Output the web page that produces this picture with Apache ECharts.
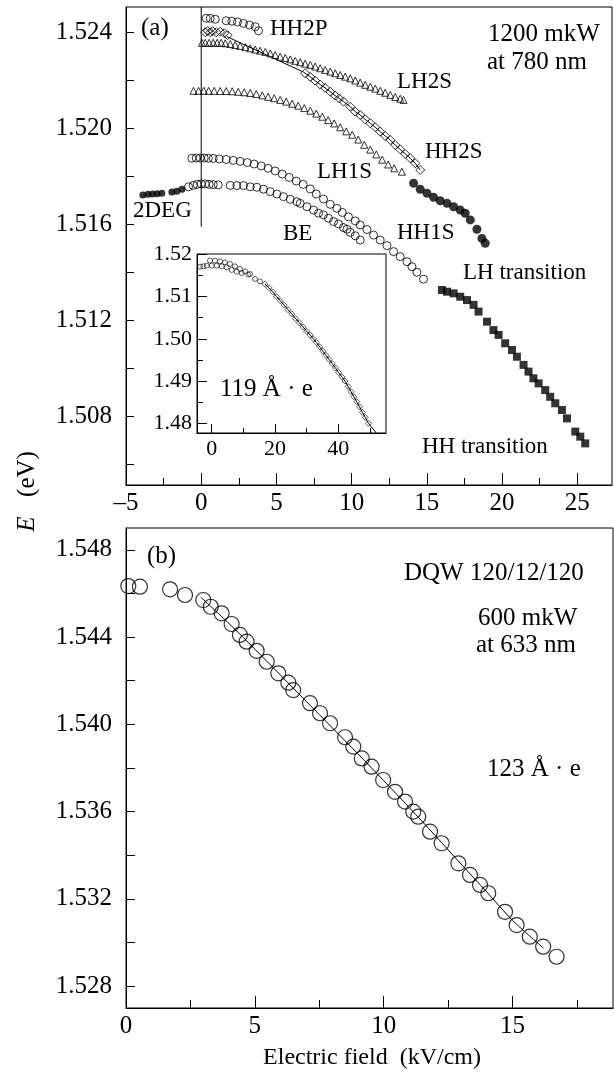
<!DOCTYPE html>
<html><head><meta charset="utf-8">
<script src="https://cdn.jsdelivr.net/npm/echarts@6/dist/echarts.min.js"></script>
<style>html,body{margin:0;padding:0;background:#fff}#c{width:614px;height:1076px}</style>
</head><body><div id="c"></div>
<script>
// ---------- Panel (a) data: field (kV/cm), energy (eV) ----------
const twoDegData = [[-3.88,1.51721],[-3.54,1.51724],[-3.24,1.51725],[-2.93,1.51726],[-2.62,1.51728],[-1.95,1.51733],[-1.62,1.51736],[-1.28,1.51745]];
const vLine = [[0,1.52504],[0,1.51589]];
const hh2pData = [[0.33,1.52457],[0.6,1.52457],[0.93,1.52453],[1.66,1.52447],[2.04,1.52445],[2.41,1.52442],[2.81,1.52436],[3.21,1.52429],[3.59,1.52422],[3.81,1.52405]];
const hh2sTop = [[0.27,1.52399],[0.43,1.52404],[0.6,1.52399],[0.76,1.52403],[1.0,1.52399],[1.26,1.52401],[1.53,1.52395],[1.76,1.52387]];
const hh2sData = [[6.91,1.52228],[7.25,1.52213],[7.58,1.52197],[7.91,1.52181],[8.24,1.52167],[8.58,1.52151],[8.91,1.52135],[9.18,1.52123],[9.46,1.52110],[9.91,1.52089],[10.24,1.52068],[10.57,1.52054],[10.9,1.52036],[11.24,1.52020],[11.57,1.52003],[11.9,1.51985],[12.23,1.51967],[12.57,1.51950],[12.9,1.51929],[13.23,1.51911],[13.56,1.51892],[13.9,1.51874],[14.23,1.51853],[14.56,1.51825]];
const hh2sFitStart = [[1.7,1.52381],[6.8,1.52233]];
const lh2sData = [[0.05,1.52355],[0.27,1.52355],[0.53,1.52355],[0.8,1.52355],[1.06,1.52355],[1.33,1.52355],[1.6,1.52353],[1.93,1.52350],[2.26,1.52346],[2.59,1.52342],[2.93,1.52337],[3.26,1.52332],[3.59,1.52327],[3.92,1.52322],[4.26,1.52317],[4.59,1.52311],[4.92,1.52304],[5.25,1.52297],[5.59,1.52292],[5.92,1.52286],[6.25,1.52280],[6.58,1.52274],[6.91,1.52268],[7.25,1.52263],[7.58,1.52256],[7.91,1.52249],[8.24,1.52242],[8.58,1.52235],[8.91,1.52228],[9.24,1.52221],[9.57,1.52214],[9.91,1.52207],[10.24,1.52198],[10.57,1.52189],[10.9,1.52180],[11.24,1.52172],[11.57,1.52164],[11.9,1.52155],[12.23,1.52147],[12.57,1.52138],[12.9,1.52129],[13.23,1.52122],[13.45,1.52117]];
const lh1sData = [[-0.51,1.52155],[-0.17,1.52155],[0.17,1.52155],[0.5,1.52155],[0.86,1.52155],[1.26,1.52154],[1.66,1.52154],[2.06,1.52153],[2.46,1.52151],[2.86,1.52149],[3.26,1.52146],[3.66,1.52142],[4.06,1.52136],[4.45,1.52130],[4.85,1.52124],[5.25,1.52117],[5.65,1.52110],[6.05,1.52101],[6.45,1.52093],[6.85,1.52083],[7.25,1.52072],[7.65,1.52060],[8.05,1.52047],[8.44,1.52033],[8.84,1.52019],[9.24,1.52003],[9.64,1.51986],[10.04,1.51972],[10.44,1.51952],[10.84,1.51930],[11.24,1.51910],[11.64,1.51890],[12.03,1.51868],[12.43,1.51848],[12.83,1.51832],[13.34,1.51818]];
const hh1sData = [[-0.62,1.51874],[-0.33,1.51875],[-0.07,1.51875],[0.2,1.51875],[0.47,1.51874],[0.8,1.51873],[1.2,1.51871],[1.66,1.51869],[2.13,1.51865],[2.59,1.51861],[3.06,1.51856],[3.52,1.51850],[3.99,1.51842],[4.45,1.51832],[4.92,1.51821],[5.39,1.51808],[5.85,1.51794],[6.32,1.51779],[6.78,1.51765],[7.25,1.51746],[7.65,1.51725],[8.13,1.51704],[8.58,1.51682],[9.02,1.51665],[9.38,1.51648],[9.79,1.51630],[10.24,1.51613],[10.57,1.51596],[11.02,1.51577],[11.46,1.51554],[11.9,1.51533],[12.35,1.51510],[12.79,1.51485],[13.23,1.51464],[13.68,1.51443],[14.01,1.51422],[14.34,1.51399],[14.78,1.51370]];
const beData = [[-0.84,1.51755],[-0.53,1.51761],[-0.27,1.51765],[0,1.51767],[0.27,1.51767],[0.53,1.51765],[0.8,1.51764],[1.13,1.51763],[1.93,1.51761],[2.37,1.51760],[2.81,1.51760],[3.26,1.51755],[3.7,1.51753],[4.14,1.51745],[4.59,1.51735],[5.03,1.51725],[5.47,1.51714],[5.92,1.51703],[6.36,1.51693],[6.58,1.51686],[7.03,1.51672],[7.47,1.51658],[7.8,1.51645],[8.13,1.51638],[8.46,1.51624],[8.8,1.51610],[9.13,1.51600],[9.46,1.51585],[9.69,1.51578],[9.91,1.51565],[10.24,1.51551],[10.57,1.51533]];
const lhTransData = [[14.12,1.51770],[14.56,1.51745],[15.01,1.51728],[15.45,1.51711],[15.89,1.51697],[16.34,1.51686],[16.78,1.51672],[17.22,1.51658],[17.55,1.51645],[17.89,1.51617],[18.33,1.51578],[18.66,1.51540],[18.88,1.51520]];
const hhTransData = [[16.0,1.51325],[16.34,1.51318],[16.78,1.51311],[17.22,1.51297],[17.67,1.51283],[18.11,1.51263],[18.44,1.51235],[19.0,1.51193],[19.43,1.51158],[19.77,1.51138],[20.21,1.51103],[20.66,1.51075],[20.99,1.51047],[21.43,1.51013],[21.76,1.50985],[22.09,1.50957],[22.43,1.50936],[22.87,1.50908],[23.2,1.50880],[23.54,1.50853],[23.98,1.50825],[24.32,1.50790],[24.87,1.50735],[25.2,1.50714],[25.53,1.50686]];
// ---------- Inset data ----------
const insetUpper = [[-0.54,1.51853],[1.04,1.51853],[2.62,1.51837],[4.2,1.51813],[5.78,1.51775],[7.36,1.51718],[8.94,1.51656],[10.52,1.51599],[12.1,1.51537]];
const insetLower = [[-3.7,1.51711],[-2.65,1.51718],[-1.58,1.51734],[0,1.51734],[1.58,1.51734],[3.16,1.51718],[4.74,1.51694],[6.32,1.51632],[7.9,1.51592],[9.48,1.51561],[11.56,1.51521],[13.68,1.51419],[15.26,1.51362]];
const insetSq = [[16.8,1.5130],[18.1,1.5121],[19.3,1.5111],[20.5,1.5100],[21.7,1.5090],[22.9,1.5080],[24.1,1.5069],[25.3,1.5059],[26.5,1.5048],[27.7,1.5038],[28.9,1.5028],[30.0,1.5018],[31.1,1.5009],[32.1,1.5000],[33.1,1.4991],[34.1,1.4981],[35.1,1.4971],[36.1,1.4961],[37.1,1.4951],[38.1,1.4941],[39.1,1.4931],[40.1,1.4920],[41.1,1.4910],[42.1,1.4900],[43.1,1.4887],[44.0,1.4875],[44.9,1.4863],[45.8,1.4851],[46.7,1.4839],[47.6,1.4826],[48.5,1.4814],[49.5,1.4800]];
const insetFitEnd = [[52.1,1.4776]];
// ---------- Panel (b) data ----------
const dqwData = [[0.09,1.54634],[0.54,1.54631],[1.71,1.54619],[2.29,1.54593],[3.0,1.54570],[3.29,1.54539],[3.71,1.54509],[4.1,1.54460],[4.42,1.54410],[4.68,1.54379],[5.07,1.54337],[5.46,1.54287],[5.91,1.54234],[6.3,1.54191],[6.49,1.54157],[7.14,1.54097],[7.53,1.54051],[7.92,1.54005],[8.5,1.53941],[8.82,1.53898],[9.15,1.53844],[9.53,1.53806],[9.98,1.53745],[10.44,1.53691],[10.83,1.53646],[11.15,1.53600],[11.34,1.53577],[11.8,1.53508],[12.25,1.53455],[12.9,1.53363],[13.35,1.53310],[13.74,1.53264],[14.06,1.53226],[14.71,1.53141],[15.16,1.53080],[15.67,1.53027],[16.19,1.52981],[16.71,1.52935]];
const dqwFit = [[2.9,1.54583],[4.0,1.54462],[5.0,1.54345],[6.0,1.54225],[7.0,1.54105],[8.0,1.53985],[9.0,1.53865],[10.0,1.53742],[11.0,1.53618],[12.0,1.53490],[13.0,1.53360],[14.0,1.53232],[15.0,1.53102],[16.2,1.52975]];
// ---------- Tick values ----------
const aXMajor = [-5,0,5,10,15,20,25];
const aXMinor = [-2.5,2.5,7.5,12.5,17.5,22.5];
const aYTicks = [1.506,1.508,1.510,1.512,1.514,1.516,1.518,1.520,1.522,1.524];
const aYLabels = [1.508,1.512,1.516,1.520,1.524];
const inXMajor = [0,20,40];
const inXMinor = [10,30,50];
const inYMajor = [1.48,1.49,1.50,1.51,1.52];
const inYMinor = [1.485,1.495,1.505,1.515];
const bXMajor = [0,5,10,15];
const bXMinor = [2.5,7.5,12.5,17.5];
const bYTicks = [1.528,1.530,1.532,1.534,1.536,1.538,1.540,1.542,1.544,1.546,1.548];
const bYLabels = [1.528,1.532,1.536,1.540,1.544,1.548];

const FONT = '"Liberation Serif","Times New Roman",serif';
const BLACK = '#000';

function xMajor(gi, min, max, ticks, len, margin, fs, fmt) {
  return {type:'value', gridIndex:gi, min:min, max:max, position:'bottom',
    axisLine:{show:true, onZero:false, lineStyle:{color:BLACK, width:1}},
    axisTick:{show:true, inside:true, length:len, customValues:ticks, lineStyle:{color:BLACK, width:1}},
    axisLabel:{show:true, customValues:ticks, margin:margin, color:BLACK, fontFamily:FONT, fontSize:fs, formatter:fmt},
    splitLine:{show:false}};
}
function xMinor(gi, min, max, ticks, len) {
  return {type:'value', gridIndex:gi, min:min, max:max, position:'bottom',
    axisLine:{show:false, onZero:false},
    axisTick:{show:true, inside:true, length:len, customValues:ticks, lineStyle:{color:BLACK, width:1}},
    axisLabel:{show:false}, splitLine:{show:false}};
}
function yAx(gi, min, max, ticks, labels, len, margin, fs, fmt, showLine) {
  return {type:'value', gridIndex:gi, min:min, max:max, position:'left',
    axisLine:{show:showLine, onZero:false, lineStyle:{color:BLACK, width:1}},
    axisTick:{show:true, inside:true, length:len, customValues:ticks, lineStyle:{color:BLACK, width:1}},
    axisLabel:{show: labels.length>0, customValues:labels, margin:margin, color:BLACK, fontFamily:FONT, fontSize:fs, formatter:fmt},
    splitLine:{show:false}};
}
function scat(data, symbol, size, filled, xi, yi, bw) {
  return {type:'scatter', data:data, symbol:symbol, symbolSize:size, xAxisIndex:xi, yAxisIndex:yi,
    itemStyle: filled ? {color:BLACK} : {color:'rgba(255,255,255,0)', borderColor:BLACK, borderWidth:bw||1},
    emphasis:{disabled:true}, silent:true, z:3, animation:false};
}
function lineS(data, xi, yi, w, smooth) {
  return {type:'line', data:data, xAxisIndex:xi, yAxisIndex:yi, showSymbol:false, symbol:'none',
    lineStyle:{color:BLACK, width:w||1}, smooth:smooth||false, silent:true, z:2, animation:false};
}
function txt(text, x, y, fs, align, extra) {
  const st = Object.assign({text:text, x:0, y:0, fill:BLACK, font: fs+'px '+FONT,
    align:align||'left', verticalAlign:'middle', textAlign:align||'left', textVerticalAlign:'middle'}, extra||{});
  return {type:'text', x:x, y:y, silent:true, z:10, style:st};
}

const chart = echarts.init(document.getElementById('c'), null, {renderer:'canvas'});
const fmtA = v => v < 0 ? '\u2013' + (-v) : String(v);
const f3 = v => Number(v).toFixed(3);
const f2 = v => Number(v).toFixed(2);

chart.setOption({
  animation:false,
  backgroundColor:'#fff',
  grid:[
    {left:126, top:7, width:486, height:478, show:true, borderColor:BLACK, borderWidth:1, backgroundColor:'rgba(0,0,0,0)'},
    {left:197, top:254, width:189, height:179, show:true, borderColor:BLACK, borderWidth:1, backgroundColor:'#fff'},
    {left:126, top:528, width:487, height:480, show:true, borderColor:BLACK, borderWidth:1, backgroundColor:'rgba(0,0,0,0)'}
  ],
  xAxis:[
    xMajor(0, -5, 27.31, aXMajor, 12, 6, 25, fmtA),
    xMajor(1, -4.64, 55.05, inXMajor, 9, 5, 22, v => String(v)),
    xMajor(2, 0, 18.9, bXMajor, 12, 6, 25, v => String(v)),
    xMinor(0, -5, 27.31, aXMinor, 7),
    xMinor(1, -4.64, 55.05, inXMinor, 5),
    xMinor(2, 0, 18.9, bXMinor, 8)
  ],
  yAxis:[
    yAx(0, 1.505125, 1.5250417, aYTicks, aYLabels, 8, 14, 25, f3, true),
    yAx(1, 1.4777, 1.5201, inYMajor, inYMajor, 10, 5, 22, f2, true),
    yAx(2, 1.527, 1.549, bYTicks, bYLabels, 9, 14, 25, f3, true),
    yAx(1, 1.4777, 1.5201, inYMinor, [], 6, 5, 22, f2, false)
  ],
  series:[
    lineS(vLine, 0, 0, 1),
    scat(twoDegData, 'circle', 7, true, 0, 0),
    scat(hh2pData, 'circle', 8, false, 0, 0),
    lineS(hh2sFitStart.concat(hh2sData), 0, 0, 1),
    scat(hh2sTop.concat(hh2sData), 'diamond', 9, false, 0, 0),
    scat(lh2sData, 'triangle', 7, false, 0, 0),
    scat(lh1sData, 'triangle', 7, false, 0, 0),
    scat(hh1sData, 'circle', 8, false, 0, 0),
    scat(beData, 'circle', 8, false, 0, 0),
    scat(lhTransData, 'circle', 9, true, 0, 0),
    scat(hhTransData, 'rect', 8, true, 0, 0),
    scat(insetUpper, 'circle', 5, false, 1, 1, 0.8),
    scat(insetLower, 'circle', 5, false, 1, 1, 0.8),
    lineS(insetSq.concat(insetFitEnd), 1, 1, 1),
    scat(insetSq, 'diamond', 6, false, 1, 1, 0.8),
    lineS(dqwFit, 2, 2, 1, 0.3),
    scat(dqwData, 'circle', 15, false, 2, 2, 1.2)
  ],
  graphic:[
    txt('(a)', 141, 28, 25),
    txt('HH2P', 270, 29, 23),
    txt('1200 mkW', 488, 34, 25),
    txt('at 780 nm', 487, 62, 25),
    txt('LH2S', 397, 82, 23),
    txt('HH2S', 425, 152, 23),
    txt('LH1S', 317, 172, 23),
    txt('2DEG', 133, 211, 23),
    txt('BE', 283, 234, 23),
    txt('HH1S', 397, 233, 23),
    txt('LH transition', 463, 273, 23),
    txt('HH transition', 422, 447, 23),
    txt('119 \u00c5 \u00b7 e', 220, 389, 25),
    txt('(b)', 147, 556, 25),
    txt('DQW 120/12/120', 404, 573, 25),
    txt('600 mkW', 478, 618, 25),
    txt('at 633 nm', 476, 645, 25),
    txt('123 \u00c5 \u00b7 e', 487, 769, 25),
    txt('Electric field  (kV/cm)', 372, 1058, 24, 'center'),
    {type:'text', x:27, y:524, rotation:Math.PI/2, silent:true, z:10,
      style:{text:'E', fill:BLACK, font:'italic 25px '+FONT, align:'center', verticalAlign:'middle', textAlign:'center', textVerticalAlign:'middle'}},
    {type:'text', x:27, y:474, rotation:Math.PI/2, silent:true, z:10,
      style:{text:'(eV)', fill:BLACK, font:'25px '+FONT, align:'center', verticalAlign:'middle', textAlign:'center', textVerticalAlign:'middle'}}
  ]
});
</script></body></html>
